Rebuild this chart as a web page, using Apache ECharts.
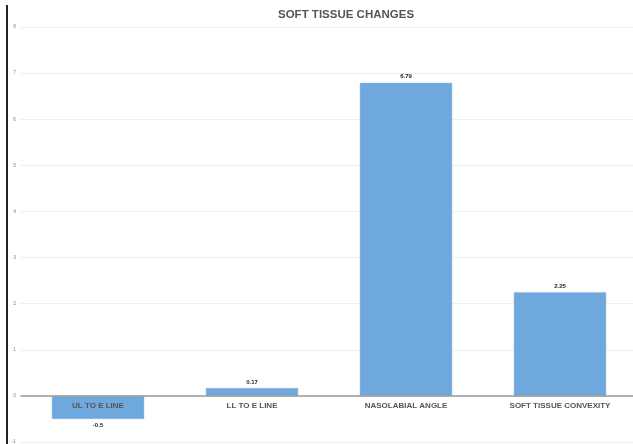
<!DOCTYPE html>
<html>
<head>
<meta charset="utf-8">
<script src="https://cdn.jsdelivr.net/npm/echarts@6/dist/echarts.min.js"></script>
<style>
  html, body { margin: 0; padding: 0; background: #fff; }
  #chartsId { width: 633px; height: 444px; }
</style>
</head>
<body>
<div id="chartsId"></div>
<script>
var categories = ["UL TO E LINE", "LL TO E LINE", "NASOLABIAL ANGLE", "SOFT TISSUE CONVEXITY"];
var changes = [-0.5, 0.17, 6.79, 2.25];
var yMin = -1;
var yMax = 8;

// 基于准备好的dom，初始化echarts实例
var myChart = echarts.init(document.getElementById("chartsId"));
var option = {
  backgroundColor: "#fff",
  animation: false,
  title: {
    text: "SOFT TISSUE CHANGES",
    left: 273,
    top: 4,
    textStyle: {
      fontFamily: "Liberation Sans",
      fontSize: 11.5,
      fontWeight: "bold",
      color: "#555"
    }
  },
  graphic: [
    {
      type: "rect",
      shape: { x: 6, y: 5, width: 2, height: 439 },
      style: { fill: "#222" }
    }
  ],
  grid: { left: 21, right: -4, top: 27, bottom: 2, containLabel: false, outerBoundsMode: "none" },
  xAxis: {
    type: "category",
    data: categories,
    z: 5,
    axisTick: { show: false },
    axisLine: { onZero: true, lineStyle: { color: "#999", width: 1.5 } },
    axisLabel: {
      // labels sit just under the zero line, not at the grid bottom
      margin: -40,
      fontFamily: "Liberation Sans",
      fontSize: 8,
      fontWeight: "bold",
      color: "#555"
    }
  },
  yAxis: {
    type: "value",
    min: yMin,
    max: yMax,
    interval: 1,
    axisLine: { show: false },
    axisTick: { show: false },
    axisLabel: {
      margin: 5,
      fontFamily: "Liberation Sans",
      fontSize: 5,
      color: "#888"
    },
    splitLine: { lineStyle: { color: "#eee", width: 1 } }
  },
  series: [
    {
      type: "bar",
      data: changes,
      barCategoryGap: "40%",
      itemStyle: { color: "#6fa8dc", borderColor: "#8dbbe6", borderWidth: 0.5 },
      label: {
        show: true,
        position: "outside",
        distance: 3,
        fontFamily: "Liberation Sans",
        fontSize: 6,
        fontWeight: "bold",
        color: "#222"
      }
    }
  ]
};
// 绘制图表
myChart.setOption(option);
</script>
</body>
</html>
